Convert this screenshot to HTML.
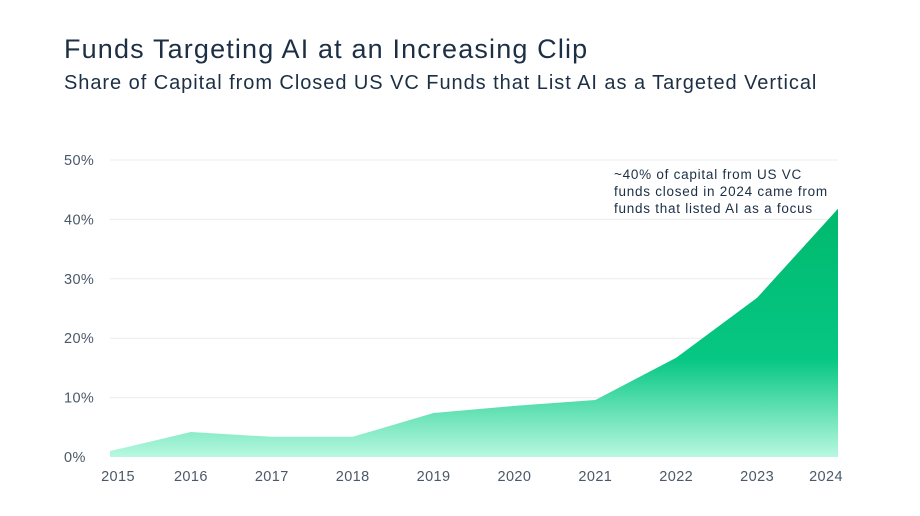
<!DOCTYPE html>
<html><head><meta charset="utf-8"><style>
body{margin:0;width:920px;height:516px;background:#fff;font-family:"Liberation Sans",sans-serif;overflow:hidden}
svg{position:absolute;left:0;top:0}
</style></head><body>
<svg width="920" height="516">
<defs><linearGradient id="g" gradientUnits="userSpaceOnUse" x1="0" y1="200" x2="0" y2="457">
<stop offset="0" stop-color="#00b86c"/><stop offset="0.62" stop-color="#06c784"/><stop offset="1" stop-color="#b8f8e0"/></linearGradient></defs>
<text x="64" y="58" font-size="27" letter-spacing="1.15" fill="#1c2f44">Funds Targeting AI at an Increasing Clip</text>
<text x="64" y="89" font-size="20" letter-spacing="0.95" fill="#1c2f44">Share of Capital from Closed US VC Funds that List AI as a Targeted Vertical</text>
<g id="grid"></g><g id="area"></g><g id="xl"></g>
<text font-size="13.5" letter-spacing="0.75" fill="#1c2f44"><tspan x="614" y="179">~40% of capital from US VC</tspan><tspan x="614" y="196">funds closed in 2024 came from</tspan><tspan x="614" y="213">funds that listed AI as a focus</tspan></text>
</svg>
<script>
const years=["2015","2016","2017","2018","2019","2020","2021","2022","2023","2024"];
const shares=[1.0,4.2,3.4,3.4,7.4,8.6,9.6,16.7,26.8,41.8];
const yTicks=[0,10,20,30,40,50];
const NS="http://www.w3.org/2000/svg";
const x=i=>110+i*(838-110)/(years.length-1);
const y=v=>457-v*(457-160)/50;
function mk(t,a,p){const e=document.createElementNS(NS,t);for(const k in a)e.setAttribute(k,a[k]);p.appendChild(e);return e;}
const grid=document.getElementById('grid');
yTicks.forEach(v=>{
 if(v>0){const l=mk('line',{x1:110,x2:838,y1:y(v),y2:y(v),stroke:'#ececec','stroke-width':1},grid);
 
 }
 const t=mk('text',{x:64,y:y(v)+5,'font-size':14.5,'letter-spacing':0.4,fill:'#4a5868'},grid);t.textContent=v+'%';
 
 
});
let d='M'+x(0)+','+y(0);
shares.forEach((v,i)=>d+=' L'+x(i)+','+y(v));
d+=' L'+x(shares.length-1)+','+y(0)+' Z';
const a=mk('path',{d:d,fill:'url(#g)'},document.getElementById('area'));


const xl=document.getElementById('xl');
years.forEach((yr,i)=>{
 let px=x(i);if(i==0)px=118;if(i==years.length-1)px=826;
 const t=mk('text',{x:px,y:481,'font-size':14.5,'letter-spacing':0.4,fill:'#4a5868','text-anchor':'middle'},xl);t.textContent=yr;
 
 
});
</script>
</body></html>
